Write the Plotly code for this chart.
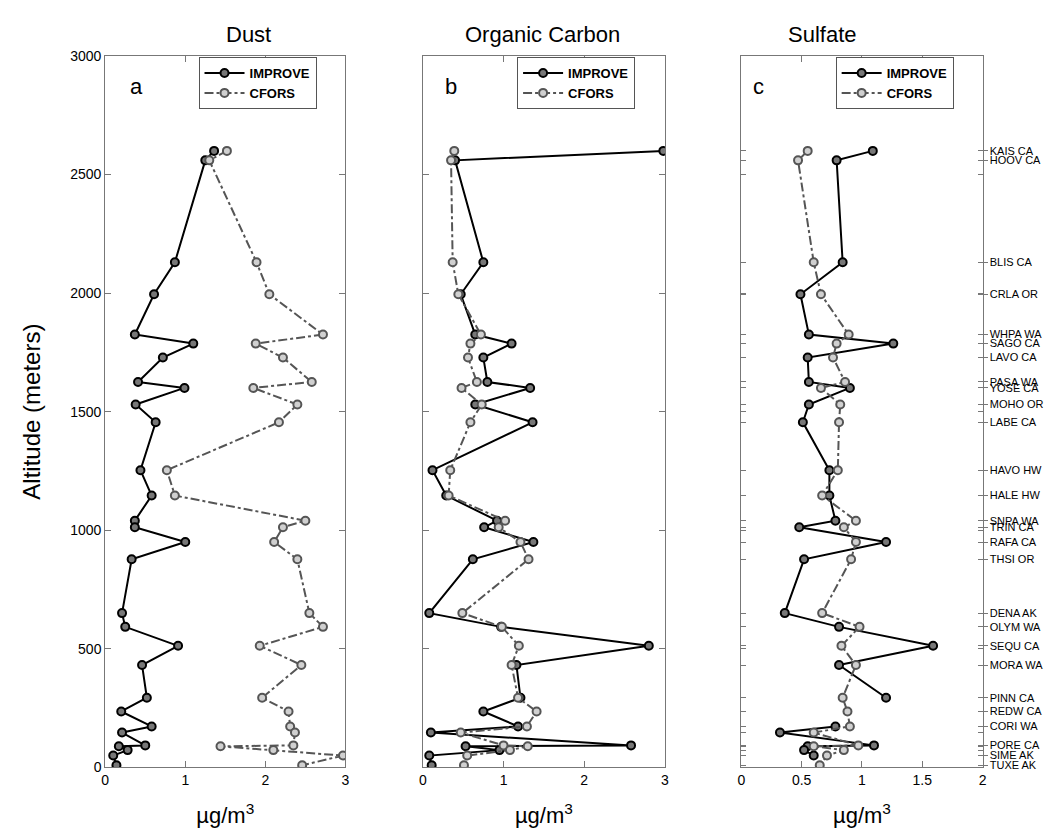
import plotly.graph_objects as go

site_names = ["KAIS CA", "HOOV CA", "BLIS CA", "CRLA OR", "WHPA WA", "SAGO CA", "LAVO CA",
              "PASA WA", "YOSE CA", "MOHO OR", "LABE CA", "HAVO HW", "HALE HW", "SNPA WA",
              "TRIN CA", "RAFA CA", "THSI OR", "DENA AK", "OLYM WA", "SEQU CA", "MORA WA",
              "PINN CA", "REDW CA", "CORI WA", "", "PORE CA", "", "", "SIME AK", "TUXE AK"]
site_alt = [2600, 2560, 2130, 1995, 1825, 1787, 1728, 1625, 1600, 1530, 1455, 1253, 1146, 1040,
            1012, 950, 877, 650, 592, 512, 431, 293, 235, 172, 146, 92, 88, 72, 49, 8]

dust_improve = [1.36, 1.25, 0.87, 0.61, 0.37, 1.10, 0.72, 0.41, 0.99, 0.38, 0.63, 0.44, 0.58, 0.37,
                0.37, 1.00, 0.33, 0.21, 0.25, 0.91, 0.46, 0.52, 0.20, 0.58, 0.21, 0.50, 0.17, 0.28,
                0.10, 0.14]
dust_cfors = [1.52, 1.30, 1.89, 2.05, 2.72, 1.88, 2.22, 2.58, 1.85, 2.40, 2.17, 0.77, 0.87, 2.50,
              2.22, 2.11, 2.40, 2.55, 2.72, 1.93, 2.45, 1.96, 2.29, 2.31, 2.37, 2.35, 1.44, 2.10,
              2.97, 2.46]
oc_improve = [2.98, 0.40, 0.75, 0.47, 0.65, 1.10, 0.75, 0.80, 1.33, 0.65, 1.36, 0.12, 0.29, 0.92,
              0.76, 1.37, 0.62, 0.08, 0.97, 2.80, 1.16, 1.21, 0.75, 1.18, 0.10, 2.58, 0.53, 0.95,
              0.08, 0.11]
oc_cfors = [0.39, 0.35, 0.37, 0.44, 0.72, 0.59, 0.56, 0.67, 0.48, 0.73, 0.59, 0.34, 0.32, 1.02,
            0.94, 1.21, 1.31, 0.49, 0.98, 1.19, 1.10, 1.18, 1.41, 1.29, 0.47, 1.00, 1.30, 1.08,
            0.55, 0.51]
so4_improve = [1.09, 0.79, 0.84, 0.49, 0.56, 1.26, 0.55, 0.56, 0.90, 0.56, 0.51, 0.73, 0.73, 0.78,
               0.48, 1.20, 0.52, 0.36, 0.81, 1.59, 0.81, 1.20, None, 0.78, 0.32, 1.10, 0.55, 0.52,
               0.60, None]
so4_cfors = [0.55, 0.47, 0.60, 0.66, 0.89, 0.79, 0.76, 0.86, 0.66, 0.82, 0.81, 0.80, 0.67, 0.95,
             0.85, 0.95, 0.91, 0.67, 0.98, 0.83, 0.95, 0.84, 0.88, 0.90, 0.60, 0.97, 0.60, 0.85,
             0.71, 0.65]

panel_titles = ["Dust", "Organic Carbon", "Sulfate"]
panel_letters = ["a", "b", "c"]
alt_ticks = [0, 500, 1000, 1500, 2000, 2500, 3000]
x_ticks_ab = [0, 1, 2, 3]
x_ticks_c = [0, 0.5, 1, 1.5, 2]
x_ticktext_c = ["0", "0.5", "1", "1.5", "2"]

W, H = 1055, 836
xdom = [(102 / W, 344 / W), (422 / W, 666 / W), (743 / W, 986 / W)]
ydom = (1 - 774 / H, 1 - 49 / H)

FONT = "Arial, Liberation Sans, sans-serif"
fig = go.Figure()

series = [(dust_improve, dust_cfors), (oc_improve, oc_cfors), (so4_improve, so4_cfors)]
legend_names = ["legend", "legend2", "legend3"]
for i, (imp, cf) in enumerate(series):
    xa = "x" if i == 0 else f"x{i+1}"
    ya = "y" if i == 0 else f"y{i+1}"
    fig.add_trace(go.Scatter(x=imp, y=site_alt, xaxis=xa, yaxis=ya, name="IMPROVE",
                             mode="lines+markers", connectgaps=False,
                             line=dict(color="black", width=2),
                             marker=dict(symbol="circle", size=8, color="#777",
                                         line=dict(color="black", width=2)),
                             legend=legend_names[i]))
    fig.add_trace(go.Scatter(x=cf, y=site_alt, xaxis=xa, yaxis=ya, name="CFORS",
                             mode="lines+markers",
                             line=dict(color="#555", width=2, dash="dashdot"),
                             marker=dict(symbol="circle", size=8, color="#d0d0d0",
                                         line=dict(color="#555", width=2)),
                             legend=legend_names[i]))

axis_common = dict(showline=True, linecolor="#777", linewidth=1, mirror="ticks",
                   ticks="inside", ticklen=6, tickcolor="#777", showgrid=False,
                   zeroline=False, tickfont=dict(family=FONT, size=14, color="black"))

layout = dict(width=W, height=H, margin=dict(l=0, r=0, t=0, b=0),
              paper_bgcolor="white", plot_bgcolor="white",
              font=dict(family=FONT, color="black"))

for i in range(3):
    sx = "" if i == 0 else str(i + 1)
    xt = dict(axis_common, domain=list(xdom[i]), anchor="y" + sx,
              range=[0, 2] if i == 2 else [0, 3],
              tickvals=x_ticks_c if i == 2 else x_ticks_ab,
              ticktext=x_ticktext_c if i == 2 else [str(v) for v in x_ticks_ab],
              title=dict(text="µg/m<sup>3</sup>", font=dict(family=FONT, size=22), standoff=20))
    yt = dict(axis_common, domain=list(ydom), anchor="x" + sx, range=[0, 3000])
    if i == 0:
        yt.update(tickvals=alt_ticks, showticklabels=True,
                  title=dict(text="Altitude (meters)", font=dict(family=FONT, size=24), standoff=22))
    elif i == 1:
        yt.update(tickvals=alt_ticks, showticklabels=False)
    else:
        yt.update(tickvals=alt_ticks + site_alt, showticklabels=False, ticklen=5)
    layout["xaxis" + sx] = xt
    layout["yaxis" + sx] = yt

label_alt = [a for a, n in zip(site_alt, site_names) if n]
label_txt = [n for n in site_names if n]
layout["yaxis4"] = dict(overlaying="y3", anchor="x3", side="right", range=[0, 3000],
                        tickvals=label_alt, ticktext=label_txt, ticks="outside", ticklen=4,
                        tickcolor="#777", showline=False, showgrid=False, zeroline=False,
                        tickfont=dict(family=FONT, size=11, color="black"))

leg_x = [196 / W, 517 / W, 838 / W]
for i, ln in enumerate(legend_names):
    layout[ln] = dict(x=leg_x[i], y=1 - 50 / H, xanchor="left", yanchor="top",
                      bordercolor="#555", borderwidth=1, bgcolor="white",
                      font=dict(family=FONT, size=13, color="black", weight="bold"),
                      tracegroupgap=0, itemwidth=40)

fig.update_layout(**layout)

# dummy trace to activate yaxis4
fig.add_trace(go.Scatter(x=[None], y=[None], xaxis="x3", yaxis="y4", showlegend=False,
                         hoverinfo="skip"))

title_x = [222 / W, 543 / W, 862 / W]
letter_x = [125 / W, 450 / W, 768 / W]
for i in range(3):
    fig.add_annotation(text=panel_titles[i], x=title_x[i], y=1 - 27 / H, xref="paper",
                       yref="paper", yanchor="middle", showarrow=False,
                       font=dict(family=FONT, size=22))
    fig.add_annotation(text=panel_letters[i], x=letter_x[i], y=1 - 80 / H, xref="paper",
                       yref="paper", yanchor="middle", showarrow=False,
                       font=dict(family=FONT, size=22))

fig.write_html("out.html")
